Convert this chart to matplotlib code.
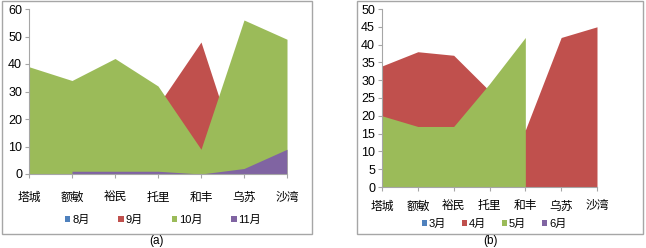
import matplotlib
matplotlib.use("Agg")
import matplotlib.pyplot as plt
import numpy as np
from matplotlib.patches import Rectangle, Patch

plt.rcParams['font.family'] = ['Liberation Sans', 'Noto Sans CJK SC', 'DejaVu Sans']

cities = ['塔城', '额敏', '裕民', '托里', '和丰', '乌苏', '沙湾']

# Panel (a)
a_labels = ['8月', '9月', '10月', '11月']
a_aug = [0, 0, 0, 0, 0, 0, 0]
a_sep = [0, 0, 0, 25, 48, 0, 0]
a_oct = [39, 34, 42, 32, 9, 56, 49]
a_nov = [np.nan, 1, 1, 1, 0, 2, 9]

# Panel (b)
b_labels = ['3月', '4月', '5月', '6月']
b_mar = [0, 0, 0, 0, 0, 0, 0]
b_apr = [34, 38, 37, 27, 16, 42, 45]
b_may = [20, 17, 17, 29, 42, np.nan, np.nan]
b_jun = [0, 0, 0, 0, 0, 0, 0]

colors = ['#4F81BD', '#C0504D', '#9BBB59', '#8064A2']
W, H = 646, 248
fig = plt.figure(figsize=(W / 100, H / 100), dpi=100)

def fbox(x0, y0, x1, y1):
    return [x0 / W, 1 - y1 / H, (x1 - x0) / W, (y1 - y0) / H]

# panel borders
for (x0, y0, x1, y1) in [(2, 1, 312, 234), (357, 1, 643, 234)]:
    fig.patches.append(Rectangle((x0 / W, 1 - y1 / H), (x1 - x0) / W, (y1 - y0) / H,
                                 transform=fig.transFigure, fill=False,
                                 edgecolor='#A6A6A6', linewidth=1.0))

def draw(ax, series, ymax, ystep, labels, pad):
    x = np.arange(len(cities))
    for s, c in zip(series, colors):
        arr = np.array(s, dtype=float)
        ax.fill_between(x, 0, arr, where=~np.isnan(arr), color=c, linewidth=0,
                        interpolate=False)
    ax.set_xlim(0, len(cities) - 1)
    ax.set_ylim(0, ymax)
    ax.set_yticks(np.arange(0, ymax + 0.1, ystep))
    ax.set_xticks(x)
    ax.set_xticklabels(cities, fontsize=8.5, family=['Noto Sans CJK SC'])
    for sp in ['top', 'right']:
        ax.spines[sp].set_visible(False)
    for sp in ['left', 'bottom']:
        ax.spines[sp].set_color('#A6A6A6')
        ax.spines[sp].set_linewidth(0.8)
    ax.tick_params(axis='y', length=3, color='#A6A6A6', labelsize=9, pad=2)
    ax.tick_params(axis='x', length=3, color='#A6A6A6', pad=pad)
    ax.set_axisbelow(False)

ax1 = fig.add_axes(fbox(29, 9, 287, 174))
draw(ax1, [a_aug, a_sep, a_oct, a_nov], 60, 10, a_labels, 9)
ax2 = fig.add_axes(fbox(382, 9, 597, 187))
draw(ax2, [b_mar, b_apr, b_may, b_jun], 50, 5, b_labels, 6)

def legend(labels, cx, cy, spacing):
    handles = [Patch(facecolor=c, edgecolor='none') for c in colors]
    fig.legend(handles, labels, loc='center', bbox_to_anchor=(cx / W, 1 - cy / H),
               ncol=4, frameon=False, handlelength=0.5, handleheight=0.5,
               handletextpad=0.15, columnspacing=spacing,
               prop={'family': ['Liberation Sans', 'Noto Sans CJK SC'], 'size': 8})

legend(a_labels, 163, 220, 2.6)
legend(b_labels, 494, 224, 1.4)

fig.text(156 / W, 1 - 241 / H, '(a)', ha='center', va='center', fontsize=8.5)
fig.text(490 / W, 1 - 241 / H, '(b)', ha='center', va='center', fontsize=8.5)

fig.savefig('out.png', dpi=100)
